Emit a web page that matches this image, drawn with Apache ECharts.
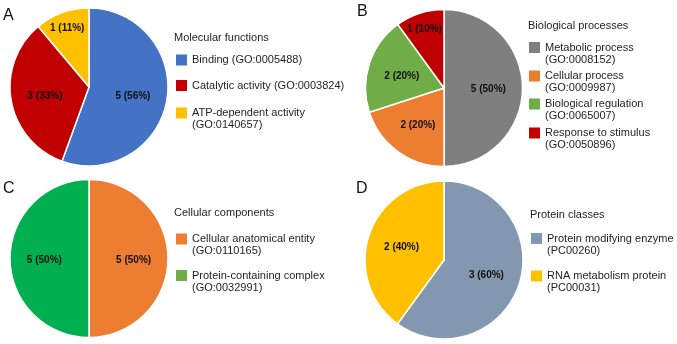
<!DOCTYPE html>
<html>
<head>
<meta charset="utf-8">
<script src="https://cdn.jsdelivr.net/npm/echarts@6/dist/echarts.min.js"></script>
<style>
html, body { margin: 0; padding: 0; background: #fff; }
#main { width: 677px; height: 344px; }
</style>
</head>
<body>
<div id="main"></div>
<script>
// A - molecular functions
var mfNames = ['Binding', 'Catalytic activity', 'ATP-dependent activity'];
var mfIds = ['GO:0005488', 'GO:0003824', 'GO:0140657'];
var mfCounts = [5, 3, 1];

// B - biological processes
var bpNames = ['Metabolic process', 'Cellular process', 'Biological regulation', 'Response to stimulus'];
var bpIds = ['GO:0008152', 'GO:0009987', 'GO:0065007', 'GO:0050896'];
var bpCounts = [5, 2, 2, 1];

// C - cellular components
var ccNames = ['Cellular anatomical entity', 'Protein-containing complex'];
var ccIds = ['GO:0110165', 'GO:0032991'];
var ccCounts = [5, 5];

// D - protein classes
var pcNames = ['Protein modifying enzyme', 'RNA metabolism protein'];
var pcIds = ['PC00260', 'PC00031'];
var pcCounts = [3, 2];

var panelTitles = ['Molecular functions', 'Biological processes', 'Cellular components', 'Protein classes'];
var panelLetters = ['A', 'B', 'C', 'D'];

var chart = echarts.init(document.getElementById('main'));

var fontFamily = '"Liberation Sans", Arial, sans-serif';
var textColor = '#1e1e1e';

var mfColors = ['#4472c4', '#c00000', '#ffc000'];
var bpColors = ['#7f7f7f', '#ed7d31', '#70ad47', '#c00000'];
var ccColors = ['#ed7d31', '#00b050'];
var ccLegendColors = ['#ed7d31', '#70ad47'];
var pcColors = ['#8497b0', '#ffc000'];

var allCounts = [mfCounts, bpCounts, ccCounts, pcCounts];
var pieCenters = [[89, 87], [444, 88], [89, 258.5], [444, 260]];
var pieRadius = [79, 78.5, 79, 79];

function pieData(names, counts, colors) {
	return names.map(function (n, i) {
		return { name: n, value: counts[i], itemStyle: { color: colors[i] } };
	});
}

function pieSeries(idx, names, counts, colors) {
	return {
		type : 'pie',
		center : pieCenters[idx],
		radius : pieRadius[idx],
		startAngle : 90,
		clockwise : true,
		percentPrecision : 0,
		silent : true,
		itemStyle : {
			borderColor : '#fff',
			borderWidth : 1.5
		},
		label : {
			show : true,
			position : 'inside',
			formatter : '{c} ({d}%)',
			fontFamily : fontFamily,
			fontSize : 10,
			fontWeight : 'bold',
			color : '#111'
		},
		labelLine : { show : false },
		emphasis : { disabled : true },
		// push labels outwards, small slices near the rim like the original
		labelLayout : function (p) {
			var c = pieCenters[p.seriesIndex];
			var vals = allCounts[p.seriesIndex];
			var total = vals.reduce(function (a, b) { return a + b; }, 0);
			var k = vals[p.dataIndex] / total < 0.15 ? 1.5 : 1.05;
			var lx = p.labelRect.x + p.labelRect.width / 2;
			var ly = p.labelRect.y + p.labelRect.height / 2;
			return { dx : (lx - c[0]) * (k - 1), dy : (ly - c[1]) * (k - 1) + 1.5 };
		},
		data : pieData(names, counts, colors)
	};
}

// one legend per entry so every square sits where the original has it;
// two-line entries get a square pinned to the first line
var squareTop = 'path://M0,0L11,0L11,11L0,11Z M0,23L11,23';
var legends = [];
function legendItem(name, id, left, cy, twoLine, color) {
	var item = { name : name };
	if (color) item.itemStyle = { color : color, borderWidth : 0 };
	legends.push({
		orient : 'vertical',
		left : left,
		top : cy - 6,
		padding : 0,
		itemWidth : 11,
		itemHeight : twoLine ? 23 : 11,
		icon : twoLine ? squareTop : 'rect',
		selectedMode : false,
		itemStyle : { borderWidth : 0 },
		textStyle : {
			fontFamily : fontFamily,
			fontSize : 11,
			lineHeight : 12,
			color : textColor
		},
		formatter : function () {
			return name + (twoLine ? '\n(' : ' (') + id + ')';
		},
		data : [item]
	});
}

var mfY = [60, 85.5, 113];
var mfTwo = [false, false, true];
mfNames.forEach(function (n, i) { legendItem(n, mfIds[i], 176, mfY[i], mfTwo[i]); });
var bpY = [47.5, 76, 104, 133];
bpNames.forEach(function (n, i) { legendItem(n, bpIds[i], 529, bpY[i], true); });
var ccY = [239, 275.5];
ccNames.forEach(function (n, i) { legendItem(n, ccIds[i], 176, ccY[i], true, ccLegendColors[i]); });
var pcY = [238.5, 276];
pcNames.forEach(function (n, i) { legendItem(n, pcIds[i], 531, pcY[i], true); });

var titles = [];
var titlePos = [[174, 31], [528, 19.5], [174, 206], [530, 208.5]];
panelTitles.forEach(function (t, i) {
	titles.push({
		text : t,
		left : titlePos[i][0],
		top : titlePos[i][1],
		padding : 0,
		textStyle : { fontFamily : fontFamily, fontSize : 11, fontWeight : 'normal', lineHeight : 13, color : textColor }
	});
});
var letterPos = [[3, 8], [357, 3.5], [3, 181], [356, 181]];
panelLetters.forEach(function (t, i) {
	titles.push({
		text : t,
		left : letterPos[i][0],
		top : letterPos[i][1],
		padding : 0,
		textStyle : { fontFamily : fontFamily, fontSize : 16, fontWeight : 'normal', lineHeight : 16, color : '#111' }
	});
});

chart.setOption({
	backgroundColor : '#fff',
	animation : false,
	textStyle : { fontFamily : fontFamily },
	title : titles,
	legend : legends,
	series : [
		pieSeries(0, mfNames, mfCounts, mfColors),
		pieSeries(1, bpNames, bpCounts, bpColors),
		pieSeries(2, ccNames, ccCounts, ccColors),
		pieSeries(3, pcNames, pcCounts, pcColors)
	]
});
</script>
</body>
</html>
